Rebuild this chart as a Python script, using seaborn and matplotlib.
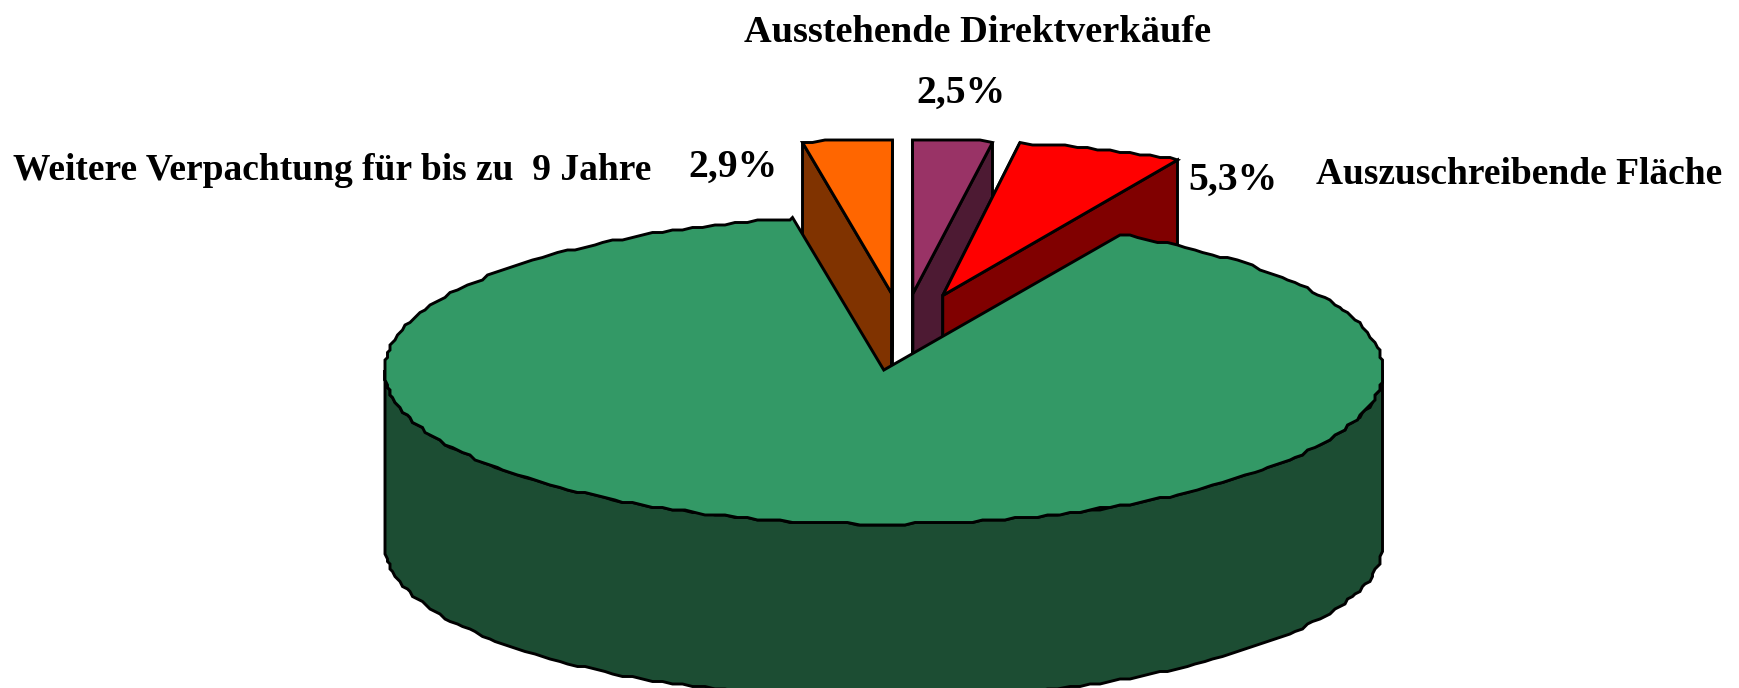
import numpy as np
import matplotlib
matplotlib.use('Agg')
import matplotlib.pyplot as plt
from matplotlib.patches import Polygon
import seaborn as sns

# slices, clockwise from the left edge of the gap
labels = ['Weitere Verpachtung für bis zu  9 Jahre', 'Ausstehende Direktverkäufe',
          'Auszuschreibende Fläche', '']
values = [2.9, 2.5, 5.3, 89.3]
value_labels = ['2,9%', '2,5%', '5,3%']
top_colors = ['#FF6600', '#993366', '#FF0000', '#339966']
side_colors = ['#803300', '#4D1A33', '#800000', '#1C4D33']

# pie geometry in image pixels
start_angle = 100.4
center_x, center_y = 903, 332
rx, ry = 499, 154
depth = 174
explode = 0.25
snap = 2.5

sns.set_theme(style='white')
plt.rcParams['font.family'] = ['Liberation Serif', 'DejaVu Serif']

fig, ax = plt.subplots(figsize=(17.39, 6.88), dpi=100)
ax.set_position([0, 0, 1, 1])
ax.set_xlim(0, 1739)
ax.set_ylim(688, 0)
ax.axis('off')


def rim(cx, cy, a0, a1):
    t = np.radians(np.arange(a0, a1, np.sign(a1 - a0) * 1.3))
    t = np.append(t, np.radians(a1))
    pts = np.column_stack([cx + rx * np.cos(t), cy - ry * np.sin(t)])
    # the original outline is stepped
    return np.round(pts / snap) * snap


def poly(pts, color, z):
    ax.add_patch(Polygon(pts, closed=True, facecolor=color, edgecolor='black',
                         linewidth=2.1, joinstyle='miter', zorder=z))


fracs = np.array(values) / sum(values) * 360
edges = start_angle - np.concatenate([[0], np.cumsum(fracs)])

for i, val in enumerate(values):
    a0, a1 = edges[i], edges[i + 1]
    mid = np.radians((a0 + a1) / 2)
    cx = center_x + explode * rx * np.cos(mid)
    cy = center_y - explode * ry * np.sin(mid)
    z = 2 + i * 3
    arc = rim(cx, cy, a0, a1)
    down = np.array([0, depth])
    tip = np.array([cx, cy])
    if val > 50:
        # big slice: front wall only, the rest is hidden by its top
        front = rim(cx, cy, -180, 0)
        poly(np.vstack([front, (front + down)[::-1]]), side_colors[i], z)
    else:
        for end in (arc[0], arc[-1]):
            poly([tip, end, end + down, tip + down], side_colors[i], z)
    poly(np.vstack([[tip], arc]), top_colors[i], z + 1)

txt = dict(fontweight='bold', color='black', va='center')
ax.text(978, 33, labels[1], ha='center', fontsize=27.6, **txt)
ax.text(961, 93, value_labels[1], ha='center', fontsize=28.5, **txt)
ax.text(13, 171, labels[0], ha='left', fontsize=27, **txt)
ax.text(733, 167, value_labels[0], ha='center', fontsize=28.5, **txt)
ax.text(1233, 180, value_labels[2], ha='center', fontsize=28.5, **txt)
ax.text(1722, 175, labels[2], ha='right', fontsize=27, **txt)

fig.savefig('out.png', dpi=100)
